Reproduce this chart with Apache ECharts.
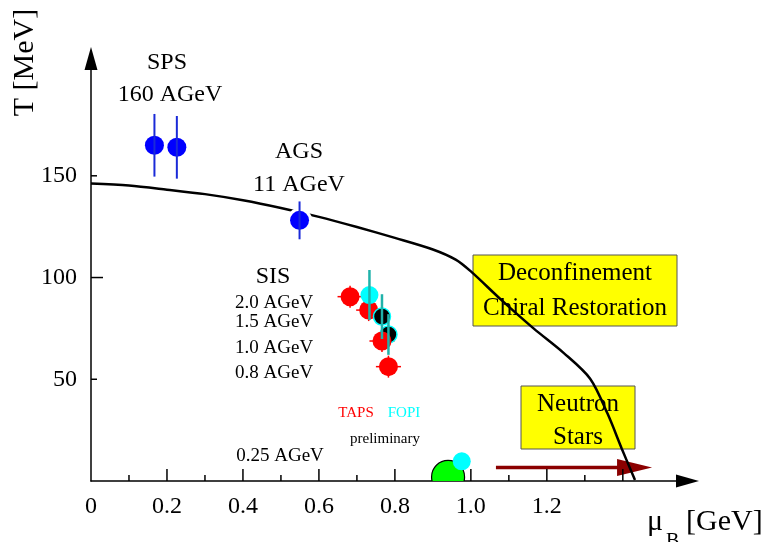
<!DOCTYPE html>
<html>
<head>
<meta charset="utf-8">
<script src="https://cdn.jsdelivr.net/npm/echarts@6/dist/echarts.min.js"></script>
</head>
<body style="margin:0">
<div id="container" style="width:766px;height:542px"></div>
<script>
// axis ticks / labels
var xLabels = [0, 0.2, 0.4, 0.6, 0.8, 1.0, 1.2];
var yLabels = [50, 100, 150];
var xMajorTicks = [0.2, 0.4, 0.6, 0.8, 1.0, 1.2, 1.4];
var xMinorTicks = [0.1, 0.3, 0.5, 0.7, 0.9, 1.1, 1.3];
var yMajorTicks = [100];
var yMinorTicks = [50, 150];

// phase boundary (mu_B [GeV], T [MeV])
var boundary = [[0, 146.2], [0.1, 145.2], [0.2, 143.2], [0.3, 141], [0.4, 138], [0.5, 134.2],
  [0.6, 129.8], [0.7, 124.8], [0.8, 119.5], [0.9, 113.8], [0.96, 108.8], [1.0, 103],
  [1.08, 89], [1.165, 75], [1.244, 63], [1.314, 50.3], [1.36, 33], [1.397, 16], [1.432, 0.5]];

// freeze-out points
var spsPoints = [[0.167, 165], [0.226, 164]];
var spsErr = [15.4, 15.4];
var agsPoints = [[0.549, 128.1]];
var agsErr = [9.3];
var tapsPoints = [[0.682, 90.6], [0.731, 84], [0.766, 68.8], [0.783, 56.2]];
var tapsErrX = 0.033, tapsErrT = 5.4;
var fopiPoints = [[0.733, 91.4]];
var fopiBlack = [[0.766, 80.8], [0.783, 72]];
var fopiErr = [12.3, 11, 10];
var fopiLow = [[0.976, 9.7]];
var nucleon = [[0.94, 2]];
var neutronArrow = [[1.066, 1.477, 6.6]];

var serif = 'Liberation Serif';

function errBars(points, errs) {
  return points.map(function (p, i) { return [p[0], p[1] - errs[i], p[1] + errs[i]]; });
}
function vbar(color, width) {
  return function (params, api) {
    var a = api.coord([api.value(0), api.value(1)]);
    var b = api.coord([api.value(0), api.value(2)]);
    return { type: 'line', shape: { x1: a[0], y1: a[1], x2: b[0], y2: b[1] },
      style: { stroke: color, lineWidth: width } };
  };
}
function tickSeries(ticks, horizontal, len) {
  return {
    type: 'custom', silent: true, z: 2,
    data: ticks.map(function (t) { return horizontal ? [t, 0] : [0, t]; }),
    renderItem: function (params, api) {
      var p = api.coord([api.value(0), api.value(1)]);
      var shape = horizontal ? { x1: p[0], y1: p[1], x2: p[0], y2: p[1] - len }
                             : { x1: p[0], y1: p[1], x2: p[0] + len, y2: p[1] };
      return { type: 'line', shape: shape, style: { stroke: '#000', lineWidth: 1.5 } };
    }
  };
}
function dot(data, size, z, style) {
  return { type: 'scatter', data: data, symbolSize: size, z: z, silent: true,
    itemStyle: Object.assign({ opacity: 1 }, style) };
}
function arrowSym() { return 'path://M6.5,0 L13,23 L0,23 Z'; }
function label(text, x, y, size, color, align) {
  return { type: 'text', x: x, y: y, z: 50,
    style: { text: text, font: size + 'px "Liberation Serif"', fill: color || '#000',
      align: align || 'center', verticalAlign: 'middle' } };
}

var dom = document.getElementById('container');
var myChart = echarts.init(dom);
var option = {
  animation: false,
  backgroundColor: '#fff',
  grid: { left: 91, right: 90, top: 70, bottom: 61 },
  xAxis: {
    type: 'value', min: 0, max: 1.54, interval: 0.2,
    splitLine: { show: false }, axisTick: { show: false },
    axisLine: { lineStyle: { color: '#000', width: 1.5 },
      symbol: ['none', arrowSym()], symbolSize: [13, 23], symbolOffset: [0, 11.5] },
    axisLabel: {
      margin: 14, fontFamily: serif, fontSize: 24, color: '#000', showMaxLabel: false,
      formatter: function (v) {
        for (var i = 0; i < xLabels.length; i++) {
          if (Math.abs(v - xLabels[i]) < 1e-6) return v === 0 ? '0' : v.toFixed(1);
        }
        return '';
      }
    }
  },
  yAxis: {
    type: 'value', min: 0, max: 202, interval: 50,
    splitLine: { show: false }, axisTick: { show: false },
    axisLine: { lineStyle: { color: '#000', width: 1.5 },
      symbol: ['none', arrowSym()], symbolSize: [13, 23], symbolOffset: [0, 11.5] },
    axisLabel: {
      margin: 14, fontFamily: serif, fontSize: 24, color: '#000', showMaxLabel: false,
      formatter: function (v) { return yLabels.indexOf(v) >= 0 ? String(v) : ''; }
    }
  },
  series: [
    { type: 'line', data: boundary, smooth: 0.3, showSymbol: false, silent: true, z: 2,
      lineStyle: { color: '#000', width: 2.5 } },
    tickSeries(xMajorTicks, true, 12),
    tickSeries(xMinorTicks, true, 6),
    tickSeries(yMajorTicks, false, 12),
    tickSeries(yMinorTicks, false, 6),
    { // neutron star arrow
      type: 'custom', data: neutronArrow, z: 1, silent: true,
      renderItem: function (params, api) {
        var a = api.coord([api.value(0), api.value(2)]);
        var b = api.coord([api.value(1), api.value(2)]);
        return { type: 'group', children: [
          { type: 'line', shape: { x1: a[0], y1: a[1], x2: b[0] - 34, y2: b[1] },
            style: { stroke: '#8b0000', lineWidth: 3.5 } },
          { type: 'polygon', shape: { points: [[b[0] - 35, b[1] - 8.5], [b[0], b[1]], [b[0] - 35, b[1] + 8.5]] },
            style: { fill: '#8b0000' } }
        ] };
      }
    },
    { // nucleon at rest
      type: 'custom', data: nucleon, clip: true, z: 3, silent: true,
      renderItem: function (params, api) {
        var p = api.coord([api.value(0), api.value(1)]);
        return { type: 'circle', shape: { cx: p[0], cy: p[1], r: 16.5 },
          style: { fill: '#00ff00', stroke: '#000', lineWidth: 1.2 } };
      }
    },
    dot(spsPoints.concat(agsPoints), 25, 4, { color: '#fff' }),
    dot(spsPoints.concat(agsPoints), 19, 5, { color: '#0000ff' }),
    { type: 'custom', z: 6, silent: true, data: errBars(spsPoints.concat(agsPoints), spsErr.concat(agsErr)),
      renderItem: vbar('#1a2ad8', 2) },
    { // TAPS cross-hair error bars
      type: 'custom', data: tapsPoints, z: 7, silent: true,
      renderItem: function (params, api) {
        var x = api.value(0), t = api.value(1);
        var l = api.coord([x - tapsErrX, t]), r = api.coord([x + tapsErrX, t]);
        var u = api.coord([x, t + tapsErrT]), d = api.coord([x, t - tapsErrT]);
        return { type: 'group', children: [
          { type: 'line', shape: { x1: l[0], y1: l[1], x2: r[0], y2: r[1] }, style: { stroke: '#ff0000', lineWidth: 1.5 } },
          { type: 'line', shape: { x1: u[0], y1: u[1], x2: d[0], y2: d[1] }, style: { stroke: '#ff0000', lineWidth: 1.5 } }
        ] };
      }
    },
    dot(tapsPoints.slice(0, 2), 19, 8, { color: '#ff0000' }),
    dot(fopiBlack, 17, 9, { color: '#000', borderColor: '#00ffff', borderWidth: 1.5 }),
    dot(tapsPoints.slice(2), 19, 10, { color: '#ff0000' }),
    dot(fopiPoints.concat(fopiLow), 18, 11, { color: '#00ffff' }),
    { type: 'custom', z: 12, silent: true, data: errBars(fopiPoints.concat(fopiBlack), fopiErr),
      renderItem: vbar('#20b2aa', 2.5) }
  ],
  graphic: [
    { type: 'text', x: 25, y: 62.5, rotation: Math.PI / 2,
      style: { text: 'T [MeV]', font: '30px "Liberation Serif"', fill: '#000', align: 'center', verticalAlign: 'middle' } },
    label('μ', 647, 522, 30, '#000', 'left'),
    label('B', 666, 542, 20, '#000', 'left'),
    label('[GeV]', 686, 522, 30, '#000', 'left'),

    label('SPS', 167, 63, 24),
    label('160 AGeV', 170, 95, 24),
    label('AGS', 299, 152, 24),
    label('11 AGeV', 299, 185, 24),
    label('SIS', 273, 277, 24),
    label('2.0 AGeV', 235, 303, 19, '#000', 'left'),
    label('1.5 AGeV', 235, 322, 19, '#000', 'left'),
    label('1.0 AGeV', 235, 348, 19, '#000', 'left'),
    label('0.8 AGeV', 235, 373, 19, '#000', 'left'),
    label('TAPS', 356, 413, 15, '#ff0000'),
    label('FOPI', 404, 413, 15, '#00ffff'),
    label('preliminary', 385, 439, 15),
    label('0.25 AGeV', 280, 456, 19),

    { type: 'group', z: 100, children: [
      { type: 'rect', shape: { x: 473, y: 255, width: 204, height: 71 },
        style: { fill: '#ffff00', stroke: '#555', lineWidth: 1 } },
      label('Deconfinement', 575, 273, 25),
      label('Chiral Restoration', 575, 308, 25)
    ] },
    { type: 'group', z: 100, children: [
      { type: 'rect', shape: { x: 521, y: 386, width: 114, height: 63 },
        style: { fill: '#ffff00', stroke: '#555', lineWidth: 1 } },
      label('Neutron', 578, 404, 25),
      label('Stars', 578, 437, 25)
    ] }
  ]
};
myChart.setOption(option);
</script>
</body>
</html>
